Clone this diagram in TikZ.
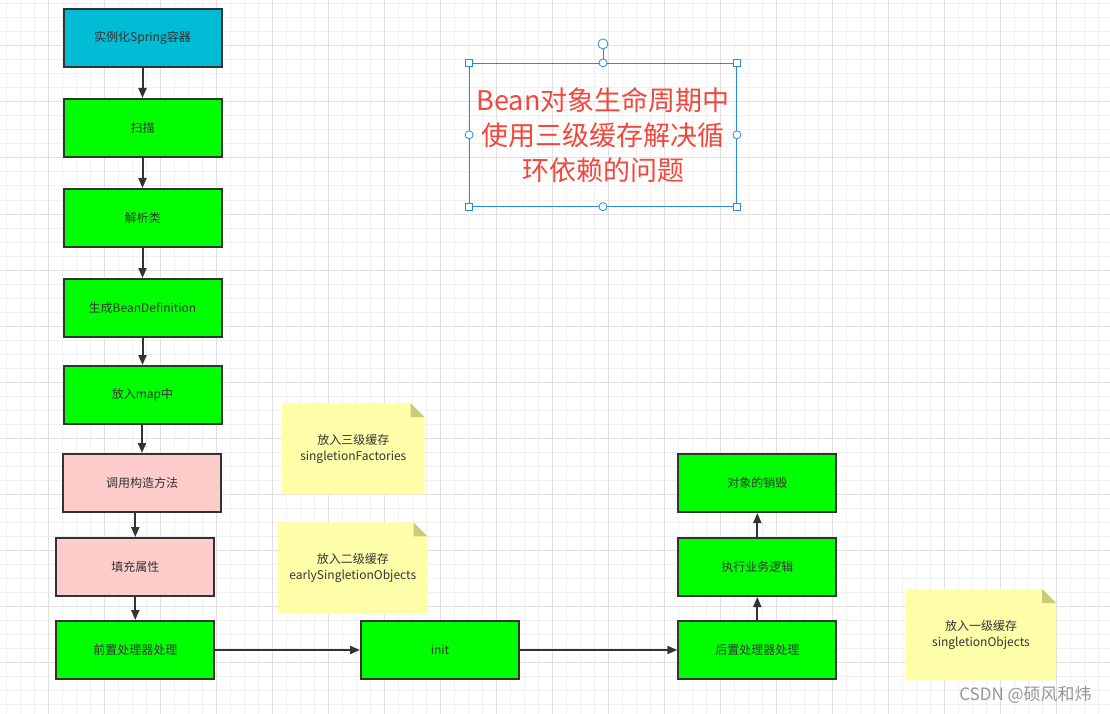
\documentclass[tikz,border=0pt]{standalone}
\usepackage{fontspec}
\setmainfont{Noto Sans CJK SC}
\usetikzlibrary{arrows.meta,calc}
\pgfdeclarelayer{gridlayer}
\pgfdeclarelayer{notelayer}
\pgfsetlayers{gridlayer,notelayer,main}
\definecolor{gridminor}{RGB}{240,240,240}
\definecolor{gridmajor}{RGB}{224,224,224}
\definecolor{boxline}{RGB}{51,51,51}
\definecolor{cyanfill}{RGB}{0,188,212}
\definecolor{greenfill}{RGB}{0,255,0}
\definecolor{pinkfill}{RGB}{255,204,204}
\definecolor{notefill}{RGB}{255,255,170}
\definecolor{notefold}{RGB}{204,204,119}
\definecolor{selblue}{RGB}{40,140,230}
\definecolor{titlered}{RGB}{242,72,60}
\definecolor{wmgray}{RGB}{150,150,150}
\begin{document}
\begin{tikzpicture}[x=1pt,y=-1pt,
  stepbox/.style={draw=boxline,line width=2pt,minimum width=158pt,minimum height=58pt,
    inner sep=0pt,font=\fontsize{12}{14}\selectfont,text=boxline},
  cyanbox/.style={stepbox,fill=cyanfill},
  greenbox/.style={stepbox,fill=greenfill},
  pinkbox/.style={stepbox,fill=pinkfill},
  notebox/.style={inner sep=0pt,align=center,font=\fontsize{12}{16}\selectfont,text=boxline},
  conn/.style={draw=boxline,line width=2pt,-{Triangle[length=10pt,width=8pt]}},
  handlesq/.style={draw=selblue,fill=white,line width=0.8pt},
]
\useasboundingbox (0,0) rectangle (1110,714);
\begin{pgfonlayer}{gridlayer}
  \fill[white] (0,0) rectangle (1110,714);
  \foreach \x in {6,20,...,1110} \draw[gridminor,line width=1pt] (\x,0) -- (\x,714);
  \foreach \y in {4,18,...,714} \draw[gridminor,line width=1pt] (0,\y) -- (1110,\y);
  \foreach \x in {48,104,...,1110} \draw[gridmajor,line width=1pt] (\x,0) -- (\x,714);
  \foreach \y in {46,102,...,714} \draw[gridmajor,line width=1pt] (0,\y) -- (1110,\y);
\end{pgfonlayer}

% left column
\node[cyanbox]  (b1) at (142.5,38)  {实例化Spring容器};
\node[greenbox] (b2) at (142.5,128) {扫描};
\node[greenbox] (b3) at (142.5,218) {解析类};
\node[greenbox] (b4) at (142.5,308) {生成BeanDefinition};
\node[greenbox] (b5) at (142.5,395) {放入map中};
\node[pinkbox]  (b6) at (142,483)   {调用构造方法};
\node[pinkbox]  (b7) at (135.3,567) {填充属性};
\node[greenbox] (b8) at (135.3,650) {前置处理器处理};
\node[greenbox] (b9) at (440,650)   {init};
\node[greenbox] (b10) at (757.3,650) {后置处理器处理};
\node[greenbox] (b11) at (757.3,567) {执行业务逻辑};
\node[greenbox] (b12) at (757.3,483) {对象的销毁};

\draw[conn] (b1) -- (b2);
\draw[conn] (b2) -- (b3);
\draw[conn] (b3) -- (b4);
\draw[conn] (b4) -- (b5);
\draw[conn] (b5.south -| b6) -- (b6.north);
\draw[conn] (b6.south -| b7) -- (b7.north);
\draw[conn] (b7) -- (b8);
\draw[conn] (b8) -- (b9);
\draw[conn] (b9) -- (b10);
\draw[conn] (b10) -- (b11);
\draw[conn] (b11) -- (b12);

% notes
\node[notebox,minimum width=142pt,minimum height=90.7pt] (n1) at (353.3,448.7) {放入三级缓存\\singletionFactories};
\node[notebox,minimum width=149pt,minimum height=91pt] (n2) at (352.8,568) {放入二级缓存\\earlySingletionObjects};
\node[notebox,minimum width=150pt,minimum height=90.7pt] (n3) at (981,634.7) {放入一级缓存\\singletionObjects};
\begin{pgfonlayer}{notelayer}
  \foreach \n in {n1,n2,n3} {
    \fill[notefill] (\n.north west) -- ($(\n.north east)+(-14,0)$) -- ($(\n.north east)+(0,14)$)
      -- (\n.south east) -- (\n.south west) -- cycle;
    \fill[notefold] ($(\n.north east)+(-14,0)$) -- ($(\n.north east)+(-14,14)$) -- ($(\n.north east)+(0,14)$) -- cycle;
  }
\end{pgfonlayer}

% title with selection frame
\node[draw=selblue,line width=0.8pt,minimum width=267pt,minimum height=143pt,inner sep=0pt,
  align=center,text=titlered,font=\fontsize{27}{35}\selectfont] (title) at (603,134.8)
  {Bean对象生命周期中\\使用三级缓存解决循\\环依赖的问题};
\coordinate (rot) at ($(title.north)+(0,-19)$);
\draw[selblue,line width=0.8pt] (title.north) -- (rot);
\draw[handlesq] (rot) circle[radius=5];
\foreach \a in {north west,north east,south west,south east}
  \draw[handlesq] ($(title.\a)+(-3.5,-3.5)$) rectangle ++(7,7);
\foreach \a in {north,south,east,west}
  \draw[handlesq] (title.\a) circle[radius=4];

% watermark
\node[text=wmgray,font=\fontsize{17}{19}\selectfont,inner sep=0pt] (wm) at (1025.5,695) {CSDN @硕风和炜};
\end{tikzpicture}
\end{document}
